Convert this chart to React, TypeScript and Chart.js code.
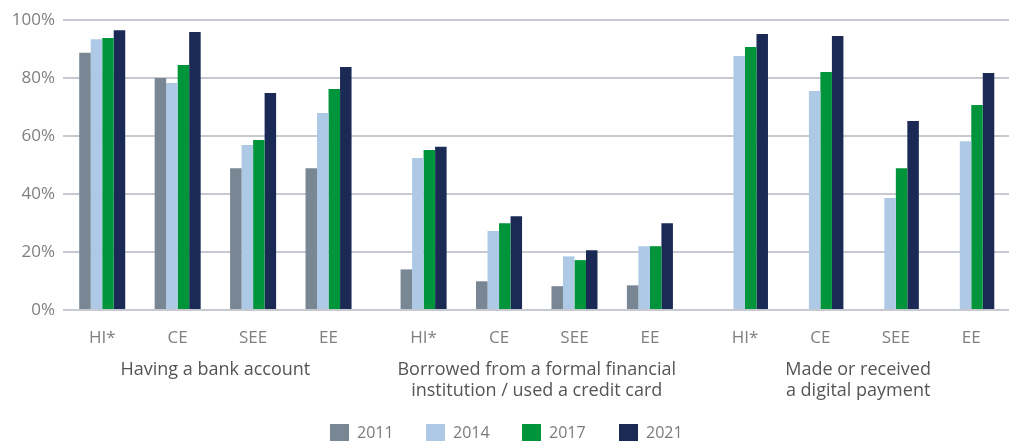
import { useEffect, useRef } from 'react';
import { Chart, registerables } from 'chart.js';

Chart.register(...registerables);

const years = ['2011', '2014', '2017', '2021'];
const regions = ['HI*', 'CE', 'SEE', 'EE'];
const groupLabels: string[][] = [
  ['Having a bank account'],
  ['Borrowed from a formal financial', 'institution / used a credit card'],
  ['Made or received', 'a digital payment'],
];
const v2011: (number | null)[] = [88.7, 80.0, 48.9, 48.9, 14.0, 9.9, 8.2, 8.5, null, null, null, null];
const v2014: (number | null)[] = [93.4, 78.3, 56.9, 67.9, 52.4, 27.2, 18.5, 22.0, 87.6, 75.5, 38.6, 58.2];
const v2017: (number | null)[] = [93.8, 84.5, 58.6, 76.2, 55.2, 29.9, 17.2, 22.0, 90.7, 82.1, 48.9, 70.7];
const v2021: (number | null)[] = [96.5, 95.9, 74.8, 83.8, 56.3, 32.3, 20.6, 29.9, 95.2, 94.5, 65.2, 81.7];
const yTicks = [0, 20, 40, 60, 80, 100];

const colors = ['#788793', '#adc9e6', '#00953b', '#1a2a54'];
const series = [v2011, v2014, v2017, v2021];

const GAP = 0.26;
const FONT = '"Open Sans", sans-serif';

const slotX: number[] = [];
const slotLabel: string[] = [];
groupLabels.forEach((_, g) => {
  regions.forEach((r, i) => {
    slotX.push(g * (regions.length + GAP) + i);
    slotLabel.push(r);
  });
});

const extras = {
  id: 'extras',
  afterDraw(chart: any) {
    const ctx = chart.ctx;
    const xs = chart.scales.x;
    const bottom = chart.chartArea.bottom;
    ctx.save();
    ctx.textAlign = 'center';
    ctx.textBaseline = 'middle';
    ctx.fillStyle = '#555555';
    ctx.font = '18px ' + FONT;
    groupLabels.forEach((lines, g) => {
      const a = slotX[g * regions.length];
      const b = slotX[g * regions.length + regions.length - 1];
      const cx = xs.getPixelForValue((a + b) / 2);
      lines.forEach((ln, k) => {
        ctx.fillText(ln, cx, bottom + 60 + k * 21);
      });
    });
    // legend
    const legendX = [330, 426, 522, 619];
    ctx.textAlign = 'left';
    ctx.font = '16px ' + FONT;
    years.forEach((y, i) => {
      ctx.fillStyle = colors[i];
      ctx.fillRect(legendX[i], 424, 19, 17);
      ctx.fillStyle = '#7a7a7a';
      ctx.fillText(y, legendX[i] + 27, 433);
    });
    ctx.restore();
  },
};

export default function App() {
  const ref = useRef<HTMLCanvasElement>(null);
  useEffect(() => {
    const chart = new Chart(ref.current!, {
      type: 'bar',
      data: {
        datasets: series.map((vals, i) => ({
          label: years[i],
          data: vals.map((v, k) => ({ x: slotX[k], y: v })) as any,
          backgroundColor: colors[i],
          borderWidth: 0,
          categoryPercentage: 0.61,
          barPercentage: 1.0,
        })),
      },
      options: {
        responsive: false,
        animation: false,
        layout: { padding: { top: 20, right: 2, left: 0, bottom: 0 } },
        plugins: { legend: { display: false }, tooltip: { enabled: false } },
        scales: {
          x: {
            type: 'linear',
            offset: false,
            min: -0.52,
            max: 12.02,
            grid: { display: false, drawTicks: false, offset: false },
            border: { display: false },
            afterBuildTicks: (scale: any) => {
              scale.ticks = slotX.map((v) => ({ value: v }));
            },
            afterFit: (scale: any) => {
              scale.height = 131;
            },
            ticks: {
              autoSkip: false,
              maxRotation: 0,
              padding: 18,
              color: '#7f7f7f',
              font: { family: FONT, size: 17 },
              callback: (_v: any, i: number) => slotLabel[i],
            },
          },
          y: {
            min: 0,
            max: 100,
            afterBuildTicks: (scale: any) => {
              scale.ticks = yTicks.map((v) => ({ value: v }));
            },
            afterFit: (scale: any) => {
              scale.width = 63;
            },
            grid: { color: '#c6cad0', lineWidth: 2, drawTicks: false },
            border: { display: false },
            ticks: {
              padding: 8,
              color: '#7f7f7f',
              font: { family: FONT, size: 17 },
              callback: (v: any) => v + '%',
            },
          },
        },
      },
      plugins: [extras],
    });
    return () => chart.destroy();
  }, []);
  return (
    <div style={{ position: 'absolute', left: 0, top: 0, width: 1011, height: 441 }}>
      <canvas ref={ref} width={1011} height={441} style={{ display: 'block' }} />
    </div>
  );
}
